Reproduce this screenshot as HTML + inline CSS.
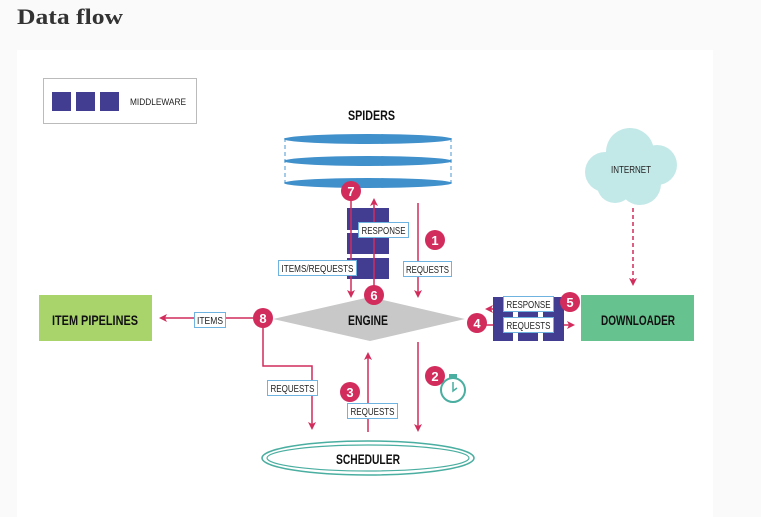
<!DOCTYPE html>
<html><head><meta charset="utf-8"><style>
html,body{margin:0;padding:0;background:#fafafa;width:761px;height:517px;overflow:hidden}
</style></head><body>
<svg width="761" height="517" viewBox="0 0 761 517" xmlns="http://www.w3.org/2000/svg" font-family="'Liberation Sans',sans-serif">
<defs>
<marker id="a" markerWidth="8" markerHeight="8" refX="4" refY="4" orient="auto" markerUnits="userSpaceOnUse"><path d="M0,0 L8,4 L0,8 L2,4 Z" fill="#d12c5c"/></marker>
</defs>
<text x="17" y="24" font-family="'Liberation Serif',serif" font-weight="bold" font-size="22" fill="#333" textLength="106" lengthAdjust="spacingAndGlyphs">Data flow</text>
<rect x="17" y="50" width="696" height="467" fill="#fff"/>
<!-- legend -->
<rect x="43.5" y="78.5" width="153" height="45" fill="#fff" stroke="#bbb"/>
<rect x="52" y="92" width="19" height="19" fill="#433d91"/>
<rect x="76" y="92" width="19" height="19" fill="#433d91"/>
<rect x="100" y="92" width="19" height="19" fill="#433d91"/>
<text x="130" y="105" font-size="9" fill="#222" textLength="56" lengthAdjust="spacingAndGlyphs">MIDDLEWARE</text>
<!-- spiders -->
<text x="348" y="120" font-size="14" font-weight="bold" fill="#111" textLength="47" lengthAdjust="spacingAndGlyphs">SPIDERS</text>
<g stroke="#4a97d1" stroke-dasharray="4,3"><line x1="285" y1="138" x2="285" y2="183"/><line x1="451" y1="138" x2="451" y2="183"/></g>
<g fill="#4090cc"><ellipse cx="368" cy="139" rx="84" ry="5"/><ellipse cx="368" cy="161" rx="84" ry="5"/><ellipse cx="368" cy="183" rx="84" ry="5"/></g>
<!-- spider middleware -->
<rect x="347" y="208" width="42" height="71" fill="#433d91"/>
<rect x="347" y="230" width="42" height="3" fill="#fff"/>
<rect x="347" y="254" width="42" height="4" fill="#fff"/>
<g stroke="#d12c5c" stroke-width="1.5" fill="none">
<line x1="351" y1="195" x2="351" y2="294" marker-end="url(#a)"/>
<line x1="374" y1="290" x2="374" y2="202" marker-end="url(#a)"/>
<line x1="418" y1="203" x2="418" y2="294" marker-end="url(#a)"/>
<line x1="418" y1="342" x2="418" y2="428" marker-end="url(#a)"/>
<line x1="368" y1="432" x2="368" y2="356" marker-end="url(#a)"/>
<polyline points="263,326 263,366 312,366 312,426" marker-end="url(#a)"/>
<line x1="255" y1="318" x2="163" y2="318" marker-end="url(#a)"/>
<line x1="565" y1="309" x2="489" y2="309" marker-end="url(#a)"/>
<line x1="485" y1="325" x2="571" y2="325" marker-end="url(#a)"/>
<line x1="633" y1="208" x2="633" y2="282" stroke-dasharray="4,3" marker-end="url(#a)"/>
</g>
<!-- labels -->
<g font-size="10" fill="#222" lengthAdjust="spacingAndGlyphs">
<rect x="358.5" y="222.5" width="50" height="15" fill="#fff" stroke="#6fb3e0"/><text x="361.5" y="234" textLength="44" lengthAdjust="spacingAndGlyphs">RESPONSE</text>
<rect x="278.5" y="260.5" width="78" height="15" fill="#fff" stroke="#6fb3e0"/><text x="281.5" y="272" textLength="72" lengthAdjust="spacingAndGlyphs">ITEMS/REQUESTS</text>
<rect x="403.5" y="261.5" width="48" height="15" fill="#fff" stroke="#6fb3e0"/><text x="406" y="273" textLength="43" lengthAdjust="spacingAndGlyphs">REQUESTS</text>
<rect x="194.5" y="312.5" width="31" height="15" fill="#fff" stroke="#6fb3e0"/><text x="197" y="324" textLength="26" lengthAdjust="spacingAndGlyphs">ITEMS</text>
<rect x="267.5" y="380.5" width="50" height="15" fill="#fff" stroke="#6fb3e0"/><text x="270.5" y="392" textLength="44" lengthAdjust="spacingAndGlyphs">REQUESTS</text>
<rect x="347.5" y="403.5" width="50" height="15" fill="#fff" stroke="#6fb3e0"/><text x="350.5" y="415" textLength="44" lengthAdjust="spacingAndGlyphs">REQUESTS</text>
</g>
<!-- engine -->
<polygon points="273,319 370,297 465,319 370,341" fill="#c8c8c8"/>
<text x="348" y="325" font-size="14" font-weight="bold" fill="#111" textLength="40" lengthAdjust="spacingAndGlyphs">ENGINE</text>
<!-- downloader middleware -->
<rect x="493" y="297" width="71" height="44" fill="#433d91"/>
<rect x="513" y="311" width="5" height="6" fill="#fff"/>
<rect x="538" y="311" width="5" height="6" fill="#fff"/>
<rect x="513" y="332" width="5" height="9" fill="#fff"/>
<rect x="538" y="332" width="5" height="9" fill="#fff"/>
<rect x="503.5" y="296.5" width="50" height="15" fill="#fff" stroke="#6fb3e0"/><text x="506.5" y="308" font-size="10" fill="#222" textLength="44" lengthAdjust="spacingAndGlyphs">RESPONSE</text>
<rect x="503.5" y="317.5" width="50" height="15" fill="#fff" stroke="#6fb3e0"/><text x="506.5" y="329" font-size="10" fill="#222" textLength="44" lengthAdjust="spacingAndGlyphs">REQUESTS</text>
<!-- boxes -->
<rect x="581" y="295" width="113" height="46" fill="#66c28f"/>
<text x="601" y="325" font-size="14" font-weight="bold" fill="#111" textLength="74" lengthAdjust="spacingAndGlyphs">DOWNLOADER</text>
<rect x="39" y="295" width="113" height="46" fill="#a9d46c"/>
<text x="52" y="325" font-size="14" font-weight="bold" fill="#111" textLength="86" lengthAdjust="spacingAndGlyphs">ITEM PIPELINES</text>
<!-- cloud -->
<g fill="#c3e8e8"><circle cx="605" cy="172" r="20"/><circle cx="630" cy="152" r="24"/><circle cx="657" cy="165" r="20"/><circle cx="640" cy="184" r="21"/><circle cx="615" cy="185" r="18"/></g>
<text x="611" y="173" font-size="10" fill="#222" textLength="40" lengthAdjust="spacingAndGlyphs">INTERNET</text>
<!-- scheduler -->
<ellipse cx="368" cy="458" rx="106" ry="17" fill="#fff" stroke="#4aaea0" stroke-width="1.5"/>
<ellipse cx="368" cy="458" rx="101" ry="13" fill="none" stroke="#4aaea0" stroke-width="1.2"/>
<text x="336" y="464" font-size="14" font-weight="bold" fill="#111" textLength="64" lengthAdjust="spacingAndGlyphs">SCHEDULER</text>
<!-- timer -->
<circle cx="453" cy="390" r="12" fill="none" stroke="#4aaea0" stroke-width="2"/>
<rect x="449" y="374" width="8" height="4" fill="#4aaea0"/>
<polyline points="453,382 453,391 457,388" fill="none" stroke="#4aaea0" stroke-width="1.5"/>
<!-- circles -->
<g fill="#d12c5c"><circle cx="351" cy="191" r="10"/><circle cx="435" cy="240" r="10"/><circle cx="374" cy="295" r="10"/><circle cx="263" cy="318" r="10"/><circle cx="477" cy="323" r="10"/><circle cx="570" cy="302" r="10"/><circle cx="435" cy="376" r="10"/><circle cx="350" cy="392" r="10"/></g>
<g font-weight="bold" font-size="13" fill="#fff" text-anchor="middle">
<text x="351" y="196">7</text><text x="435" y="245">1</text><text x="374" y="300">6</text><text x="263" y="323">8</text><text x="477" y="328">4</text><text x="570" y="307">5</text><text x="435" y="381">2</text><text x="350" y="397">3</text>
</g>
</svg>
</body></html>
